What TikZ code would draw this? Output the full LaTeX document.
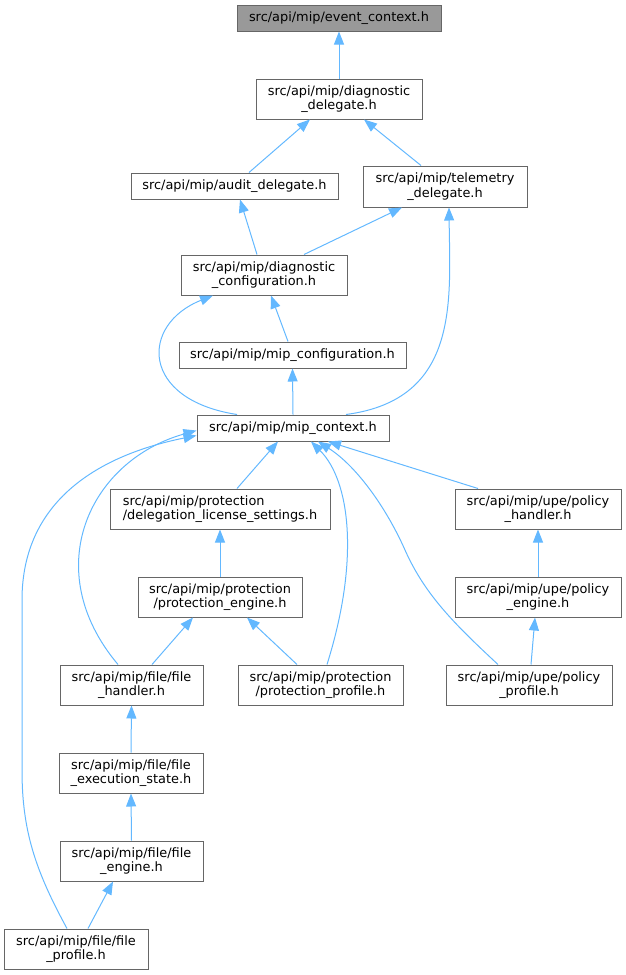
\documentclass[tikz,border=0pt]{standalone}
\usepackage{fontspec}
\setmainfont{DejaVu Sans}
\usetikzlibrary{arrows.meta}
\definecolor{edgec}{HTML}{63B8FF}
\definecolor{boxc}{HTML}{666666}
\definecolor{rootc}{HTML}{999999}
\begin{document}
\begin{tikzpicture}[x=1pt,y=-1pt,
  box/.style={draw=boxc, line width=1pt, fill=white, inner sep=0pt, align=center,
    font=\fontsize{12.9}{14.5}\selectfont},
  rootbox/.style={box, fill=rootc},
  dep/.style={draw=edgec, line width=1pt, -{Triangle[length=13pt,width=10pt]}},
]
\useasboundingbox (0,0) rectangle (625,975);
% nodes
\node[rootbox, minimum width=204pt, minimum height=26pt] (ev) at (339,18) {src/api/mip/event\_context.h};
\node[box, minimum width=166pt, minimum height=40pt] (dd) at (339,99) {src/api/mip/diagnostic\\\_delegate.h};
\node[box, minimum width=207pt, minimum height=26pt] (ad) at (234.5,186) {src/api/mip/audit\_delegate.h};
\node[box, minimum width=164pt, minimum height=41pt] (td) at (445,186.5) {src/api/mip/telemetry\\\_delegate.h};
\node[box, minimum width=166pt, minimum height=40pt] (dc) at (264,275) {src/api/mip/diagnostic\\\_configuration.h};
\node[box, minimum width=227pt, minimum height=26pt] (mc) at (292.5,355) {src/api/mip/mip\_configuration.h};
\node[box, minimum width=192pt, minimum height=26pt] (mx) at (293,428) {src/api/mip/mip\_context.h};
\node[box, minimum width=220pt, minimum height=40pt, align=left] (dl) at (220,509) {src/api/mip/protection\\/delegation\_license\_settings.h};
\node[box, minimum width=166pt, minimum height=40pt] (ph) at (538,509) {src/api/mip/upe/policy\\\_handler.h};
\node[box, minimum width=164pt, minimum height=40pt] (pe) at (220,597) {src/api/mip/protection\\/protection\_engine.h};
\node[box, minimum width=166pt, minimum height=40pt] (pen) at (538,597) {src/api/mip/upe/policy\\\_engine.h};
\node[box, minimum width=143pt, minimum height=40pt] (fh) at (131.5,685) {src/api/mip/file/file\\\_handler.h};
\node[box, minimum width=165pt, minimum height=40pt] (pp) at (320.5,685) {src/api/mip/protection\\/protection\_profile.h};
\node[box, minimum width=166pt, minimum height=40pt] (pop) at (529,685) {src/api/mip/upe/policy\\\_profile.h};
\node[box, minimum width=144pt, minimum height=40pt] (fes) at (131,773) {src/api/mip/file/file\\\_execution\_state.h};
\node[box, minimum width=143pt, minimum height=40pt] (fe) at (131.5,861) {src/api/mip/file/file\\\_engine.h};
\node[box, minimum width=144pt, minimum height=40pt] (fp) at (76,949) {src/api/mip/file/file\\\_profile.h};
% edges
\draw[dep] (dd.north) -- (ev.south);
\draw[dep] ([xshift=14.5pt]ad.north) -- ([xshift=-29pt]dd.south);
\draw[dep] ([xshift=-24pt]td.north) -- ([xshift=25pt]dd.south);
\draw[dep] ([xshift=-7pt]dc.north) -- ([xshift=5.5pt]ad.south);
\draw[dep] ([xshift=40pt]dc.north) -- ([xshift=-43pt]td.south);
\draw[dep] ([xshift=53pt]mx.north) .. controls +(114,-15) and +(1,93) .. ([xshift=4pt]td.south);
\draw[dep] ([xshift=-56pt]mx.north) .. controls +(-97,-15) and +(-73,29) .. ([xshift=-51pt]dc.south);
\draw[dep] ([xshift=-4.5pt]mc.north) -- ([xshift=7pt]dc.south);
\draw[dep] (mx.north) -- (mc.south);
\draw[dep] ([xshift=17pt]dl.north) -- ([xshift=-15pt]mx.south);
\draw[dep] ([xshift=-13.5pt]fh.north) .. controls +(-80,-95) and +(-107,30) .. ([yshift=11pt]mx.south west);
\draw[dep] ([xshift=-9pt]fp.north) .. controls (35,870) and (22,830) .. (22,770) -- (22,600)
  .. controls (22,500) and (100,455) .. ([yshift=6pt]mx.south west);
\draw[dep] (pe.north) -- (dl.south);
\draw[dep] ([xshift=20.5pt]fh.north) -- ([xshift=-27pt]pe.south);
\draw[dep] ([xshift=-23.5pt]pp.north) -- ([xshift=27pt]pe.south);
\draw[dep] ([xshift=6.5pt]pp.north) .. controls +(33,-105) and +(39,39) .. ([xshift=18pt]mx.south);
\draw[dep] ([xshift=-31pt]pop.north) .. controls +(-43,-40) and (425,595) .. (405,550)
  .. controls (385,505) and (355,465) .. ([xshift=25pt]mx.south);
\draw[dep] ([xshift=-60pt]ph.north) -- ([xshift=35pt]mx.south);
\draw[dep] (pen.north) -- (ph.south);
\draw[dep] ([xshift=2pt]pop.north) -- ([xshift=-3pt]pen.south);
\draw[dep] (fes.north) -- (fh.south);
\draw[dep] (fe.north) -- (fes.south);
\draw[dep] ([xshift=12pt]fp.north) -- ([xshift=-18.5pt]fe.south);
\end{tikzpicture}
\end{document}
